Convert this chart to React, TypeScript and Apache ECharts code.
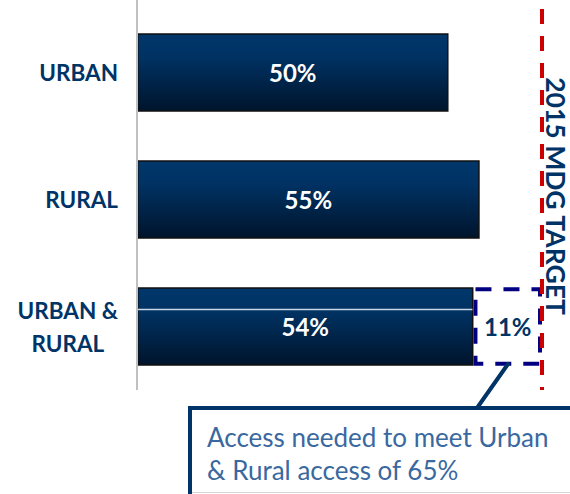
import React, { useEffect, useRef } from "react";
import * as echarts from "echarts";

const categories = ["URBAN", "RURAL", "URBAN &\nRURAL"];
const accessValues = [50, 55, 54];
const gapValues: (number | string)[] = ["-", "-", 11];
const targetValue = 65;
const targetLabel = "2015 MDG TARGET";
const calloutText = "Access needed to meet Urban\n& Rural access of 65%";

const NAVY = "#003366";
const FONT = "Lato, 'Open Sans', sans-serif";

export default function App() {
  const ref = useRef<HTMLDivElement>(null);
  useEffect(() => {
    if (!ref.current) return;
    const chart = echarts.init(ref.current, undefined, { renderer: "svg" });
    const option: any = {
      animation: false,
      backgroundColor: "#ffffff",
      grid: { left: 137, top: 9, height: 381, right: 28 },
      xAxis: {
        type: "value",
        min: 0,
        max: targetValue,
        show: false,
        splitLine: { show: false },
      },
      yAxis: {
        type: "category",
        inverse: true,
        data: categories,
        axisLine: { show: false },
        axisTick: { show: false },
        axisLabel: {
          margin: 19,
          formatter: (v: string) =>
            v
              .split("\n")
              .map((l) => "{c|" + l + "}")
              .join("\n"),
          rich: {
            c: {
              fontFamily: FONT,
              fontWeight: "bold",
              fontSize: 22.5,
              color: NAVY,
              lineHeight: 33,
              align: "center",
            },
          },
        },
      },
      series: [
        {
          type: "bar",
          stack: "a",
          data: accessValues,
          barWidth: "62%",
          itemStyle: {
            color: new echarts.graphic.LinearGradient(0, 0, 0, 1, [
              { offset: 0, color: "#00376b" },
              { offset: 0.3, color: "#003263" },
              { offset: 1, color: "#00142c" },
            ]),
            borderColor: "#111111",
            borderWidth: 1.5,
          },
          label: {
            show: true,
            position: "inside",
            formatter: "{c}%",
            color: "#ffffff",
            fontFamily: FONT,
            fontWeight: "bold",
            fontSize: 24,
          },
          markLine: {
            silent: true,
            symbol: ["none", "none"],
            label: { show: false },
            lineStyle: { color: "#cc0000", width: 4, type: [15, 12] },
            data: [{ xAxis: targetValue }],
            z: 10,
          },
        },
        {
          type: "bar",
          stack: "a",
          data: gapValues,
          itemStyle: {
            color: "rgba(255,255,255,0)",
            borderColor: "#000080",
            borderWidth: 4,
            borderType: [16, 12],
          },
          label: {
            show: true,
            position: "inside",
            formatter: "{c}%",
            color: NAVY,
            fontFamily: FONT,
            fontWeight: "bold",
            fontSize: 24,
          },
        },
      ],
    };
    chart.setOption(option);

    const p0 = chart.convertToPixel({ gridIndex: 0 }, [0, 2]) as number[];
    const p1 = chart.convertToPixel({ gridIndex: 0 }, [accessValues[2], 2]) as number[];
    const hl = p0[1] - 17;

    chart.setOption({
      graphic: [
        {
          type: "line",
          shape: { x1: 137, y1: 0, x2: 137, y2: 390 },
          style: { stroke: "#c0c0c0", lineWidth: 2 },
          z: 5,
        },
        {
          type: "line",
          shape: { x1: p0[0] + 1, y1: hl, x2: p1[0] - 1, y2: hl },
          style: { stroke: "#c8d6e6", lineWidth: 1.5 },
          z: 100,
        },
        {
          type: "text",
          x: 556,
          y: 196,
          rotation: -Math.PI / 2,
          style: {
            text: targetLabel,
            font: "bold 26.5px " + FONT,
            fill: NAVY,
            align: "center",
            verticalAlign: "middle",
          },
          z: 100,
        },
        {
          type: "rect",
          shape: { x: 190, y: 408, width: 400, height: 84.5 },
          style: { fill: "#ffffff", stroke: "#d4d4d4", lineWidth: 1 },
          z: 100,
        },
        {
          type: "polyline",
          shape: { points: [[190, 496], [190, 408], [580, 408]] },
          style: { stroke: NAVY, lineWidth: 4, fill: "none" },
          z: 101,
        },
        {
          type: "line",
          shape: { x1: 477, y1: 408, x2: 508, y2: 364 },
          style: { stroke: NAVY, lineWidth: 4, lineCap: "round" },
          z: 101,
        },
        {
          type: "text",
          x: 207,
          y: 453,
          style: {
            text: calloutText,
            font: "26px " + FONT,
            fill: "#3a68a0",
            align: "left",
            verticalAlign: "middle",
            lineHeight: 33,
          },
          z: 102,
        },
      ],
    });

    return () => chart.dispose();
  }, []);
  return (
    <div
      ref={ref}
      style={{ position: "fixed", left: 0, top: 0, width: 570, height: 494 }}
    />
  );
}
